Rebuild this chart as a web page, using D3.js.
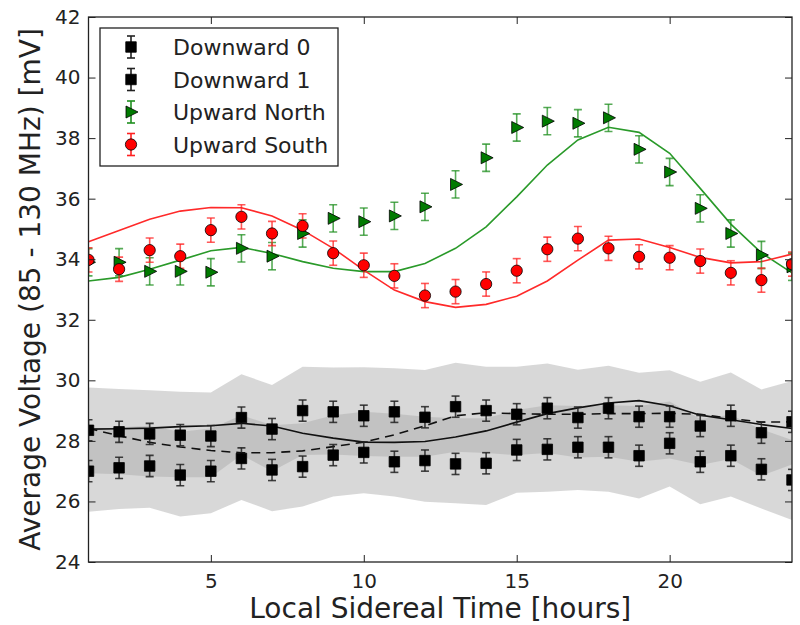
<!DOCTYPE html>
<html>
<head>
<meta charset="utf-8">
<script src="https://d3js.org/d3.v7.min.js"></script>
<style>
  body { margin: 0; background: #fff; }
  text { font-family: 'DejaVu Sans', sans-serif; fill: #222; }
</style>
</head>
<body>
<div id="chart"></div>
<script>
// data
var hours = [1, 2, 3, 4, 5, 6, 7, 8, 9, 10, 11, 12, 13, 14, 15, 16, 17, 18, 19, 20, 21, 22, 23, 24];

var upNorth = [33.9, 33.9, 33.6, 33.6, 33.57, 34.36, 34.1, 34.85, 35.35, 35.24, 35.43, 35.73, 36.47, 37.35, 38.35, 38.56, 38.49, 38.67, 37.63, 36.88, 35.68, 34.85, 34.14, 33.75];
var upSouth = [33.98, 33.67, 34.3, 34.1, 34.96, 35.4, 34.85, 35.1, 34.2, 33.8, 33.45, 32.8, 32.93, 33.18, 33.62, 34.33, 34.68, 34.36, 34.08, 34.05, 33.94, 33.55, 33.31, 33.84];
var northModel = [33.28, 33.4, 33.67, 33.97, 34.28, 34.39, 34.19, 33.92, 33.7, 33.59, 33.59, 33.86, 34.36, 35.07, 36.06, 37.11, 37.94, 38.36, 38.19, 37.5, 36.34, 35.16, 34.21, 33.55];
var southModel = [34.58, 34.95, 35.32, 35.59, 35.71, 35.7, 35.43, 34.96, 34.36, 33.64, 32.98, 32.6, 32.41, 32.51, 32.78, 33.28, 33.97, 34.63, 34.67, 34.39, 34.06, 33.88, 33.92, 34.17];

var down0 = [28.35, 28.3, 28.23, 28.19, 28.16, 28.77, 28.39, 29.0, 28.96, 28.83, 28.96, 28.78, 29.13, 29.0, 28.88, 29.08, 28.77, 29.08, 28.8, 28.8, 28.49, 28.83, 28.27, 28.63];
var down1 = [27.0, 27.11, 27.17, 26.87, 27.0, 27.42, 27.04, 27.15, 27.53, 27.62, 27.31, 27.35, 27.24, 27.26, 27.7, 27.72, 27.79, 27.79, 27.51, 27.92, 27.31, 27.51, 27.06, 26.71];
var down0Model = [28.39, 28.4, 28.42, 28.47, 28.5, 28.58, 28.49, 28.25, 28.09, 27.96, 27.95, 27.98, 28.13, 28.33, 28.62, 28.9, 29.09, 29.25, 29.33, 29.16, 28.85, 28.7, 28.54, 28.41];
var down1Model = [28.41, 28.17, 27.95, 27.8, 27.68, 27.61, 27.61, 27.67, 27.81, 27.96, 28.2, 28.5, 28.83, 28.93, 28.9, 28.88, 28.88, 28.9, 28.9, 28.91, 28.88, 28.74, 28.62, 28.63];

// shaded spread of the two downward antennas
var band0Hi = [29.76, 29.71, 29.67, 29.62, 29.6, 30.2, 29.85, 30.45, 30.42, 30.43, 30.4, 30.34, 30.58, 30.45, 30.45, 30.56, 30.35, 30.48, 30.25, 30.33, 29.95, 30.26, 29.7, 29.98];
var band0Lo = [26.93, 26.9, 26.82, 26.8, 26.8, 27.53, 27.0, 27.53, 27.55, 27.5, 27.48, 27.48, 27.64, 27.6, 27.53, 27.6, 27.45, 27.48, 27.31, 27.42, 27.2, 27.4, 26.85, 27.22];
var band1Hi = [28.36, 28.45, 28.5, 28.3, 28.41, 28.85, 28.52, 28.58, 28.85, 28.96, 28.9, 28.8, 28.75, 28.75, 29.02, 29.18, 29.15, 29.18, 29.15, 29.3, 28.72, 28.86, 28.38, 28.03];
var band1Lo = [25.66, 25.75, 25.79, 25.5, 25.61, 26.05, 25.68, 25.83, 26.16, 26.27, 26.16, 25.99, 25.94, 25.88, 26.29, 26.32, 26.38, 26.32, 26.1, 26.49, 25.91, 26.16, 25.77, 25.39];

// error bar half widths
var errDown = 0.35, errNorth = 0.45, errSouth = 0.4;

var xTicks = [5, 10, 15, 20];
var yTicks = [24, 26, 28, 30, 32, 34, 36, 38, 40, 42];

var margin = { top: 17, right: 8, bottom: 63, left: 88.5 },
  width = 800 - margin.left - margin.right,
  height = 625 - margin.top - margin.bottom;

var svg = d3
  .select('#chart')
  .append('svg')
  .attr('width', 800)
  .attr('height', 625)
  .append('g')
  .attr('transform', 'translate(' + margin.left + ',' + margin.top + ')');

var x = d3.scaleLinear().domain([1, 24]).range([0, width]);
var y = d3.scaleLinear().domain([24, 42]).range([height, 0]);

svg.append('clipPath').attr('id', 'clip')
  .append('rect').attr('width', width).attr('height', height);

var plot = svg.append('g').attr('clip-path', 'url(#clip)');

// bands
function band(hi, lo) {
  return d3.area()
    .x(function (d, i) { return x(hours[i]); })
    .y0(function (d, i) { return y(lo[i]); })
    .y1(function (d, i) { return y(hi[i]); })(hours);
}
plot.append('path').attr('d', band(band0Hi, band0Lo)).attr('fill', '#a8a8a8').attr('fill-opacity', 0.45);
plot.append('path').attr('d', band(band1Hi, band1Lo)).attr('fill', '#a8a8a8').attr('fill-opacity', 0.45);

// model lines
function line(vals) {
  return d3.line()
    .x(function (d, i) { return x(hours[i]); })
    .y(function (d, i) { return y(vals[i]); })(hours);
}
plot.append('path').attr('d', line(down0Model)).attr('fill', 'none').attr('stroke', '#111').attr('stroke-width', 1.6);
plot.append('path').attr('d', line(down1Model)).attr('fill', 'none').attr('stroke', '#111').attr('stroke-width', 1.6).attr('stroke-dasharray', '9,6');
plot.append('path').attr('d', line(northModel)).attr('fill', 'none').attr('stroke', '#2a9a2a').attr('stroke-width', 1.6);
plot.append('path').attr('d', line(southModel)).attr('fill', 'none').attr('stroke', '#ff2a2a').attr('stroke-width', 1.6);

// error bars
function errorBars(vals, err, color, opacity) {
  var g = plot.append('g').attr('stroke', color).attr('stroke-width', 1.6).attr('stroke-opacity', opacity);
  hours.forEach(function (h, i) {
    var cx = x(h), top = y(vals[i] + err), bot = y(vals[i] - err);
    g.append('line').attr('x1', cx).attr('x2', cx).attr('y1', top).attr('y2', bot);
    g.append('line').attr('x1', cx - 4).attr('x2', cx + 4).attr('y1', top).attr('y2', top);
    g.append('line').attr('x1', cx - 4).attr('x2', cx + 4).attr('y1', bot).attr('y2', bot);
  });
}
errorBars(down0, errDown, '#222', 0.85);
errorBars(down1, errDown, '#222', 0.85);
errorBars(upNorth, errNorth, '#1f8f1f', 0.75);
errorBars(upSouth, errSouth, '#ff2020', 0.75);

// markers
var square = d3.symbol().type(d3.symbolSquare).size(110);
var circle = d3.symbol().type(d3.symbolCircle).size(100);
var tri = 'M-5,-6L7,0L-5,6Z';

function markers(vals, path, fill) {
  plot.append('g').selectAll('path')
    .data(vals)
    .enter()
    .append('path')
    .attr('d', path)
    .attr('transform', function (d, i) { return 'translate(' + x(hours[i]) + ',' + y(d) + ')'; })
    .attr('fill', fill)
    .attr('stroke', '#000')
    .attr('stroke-width', 0.8);
}
markers(down0, square(), '#000');
markers(down1, square(), '#000');
markers(upNorth, tri, '#007a00');
markers(upSouth, circle(), '#ff0000');

// axes, ticks inside on all four sides
function tickStyle(g) {
  g.select('.domain').remove();
  g.selectAll('.tick line').attr('stroke', '#222');
  g.selectAll('.tick text').style('font-size', '20px').attr('fill', '#222');
}
svg.append('g').attr('transform', 'translate(0,' + height + ')')
  .call(d3.axisBottom(x).tickValues(xTicks).tickSizeInner(-7).tickPadding(12).tickFormat(d3.format('d')))
  .call(tickStyle);
svg.append('g')
  .call(d3.axisTop(x).tickValues(xTicks).tickSizeInner(-7).tickFormat(''))
  .call(tickStyle);
svg.append('g')
  .call(d3.axisLeft(y).tickValues(yTicks).tickSizeInner(-7).tickPadding(8).tickFormat(d3.format('d')))
  .call(tickStyle);
svg.append('g').attr('transform', 'translate(' + width + ',0)')
  .call(d3.axisRight(y).tickValues(yTicks).tickSizeInner(-7).tickFormat(''))
  .call(tickStyle);

svg.append('rect').attr('width', width).attr('height', height)
  .attr('fill', 'none').attr('stroke', '#222').attr('stroke-width', 1.3);

// axis labels
svg.append('text')
  .attr('x', width / 2).attr('y', height + 56)
  .attr('text-anchor', 'middle')
  .style('font-size', '28px')
  .text('Local Sidereal Time [hours]');
svg.append('text')
  .attr('transform', 'translate(' + (-48.5) + ',' + height / 2 + ') rotate(-90)')
  .attr('text-anchor', 'middle')
  .style('font-size', '28px')
  .text('Average Voltage (85 - 130 MHz) [mV]');

// legend
var legendItems = [
  { name: 'Downward 0', path: square(), fill: '#000', bar: '#222' },
  { name: 'Downward 1', path: square(), fill: '#000', bar: '#222' },
  { name: 'Upward North', path: tri, fill: '#007a00', bar: '#1f8f1f' },
  { name: 'Upward South', path: circle(), fill: '#ff0000', bar: '#ff2020' }
];
var legend = svg.append('g').attr('transform', 'translate(' + (100 - margin.left) + ',' + (28 - margin.top) + ')');
legend.append('rect').attr('width', 238).attr('height', 138)
  .attr('fill', '#fff').attr('stroke', '#222').attr('stroke-width', 1.3);
var rows = legend.selectAll('.row')
  .data(legendItems)
  .enter()
  .append('g')
  .attr('transform', function (d, i) { return 'translate(31,' + (19 + i * 32.5) + ')'; });
rows.append('line').attr('y1', -11).attr('y2', 11).attr('stroke', function (d) { return d.bar; }).attr('stroke-width', 1.6);
rows.append('line').attr('x1', -4).attr('x2', 4).attr('y1', -11).attr('y2', -11).attr('stroke', function (d) { return d.bar; }).attr('stroke-width', 1.6);
rows.append('line').attr('x1', -4).attr('x2', 4).attr('y1', 11).attr('y2', 11).attr('stroke', function (d) { return d.bar; }).attr('stroke-width', 1.6);
rows.append('path').attr('d', function (d) { return d.path; })
  .attr('fill', function (d) { return d.fill; }).attr('stroke', '#000').attr('stroke-width', 0.8);
rows.append('text').attr('x', 42).attr('y', 8).style('font-size', '22px').text(function (d) { return d.name; });
</script>
</body>
</html>
